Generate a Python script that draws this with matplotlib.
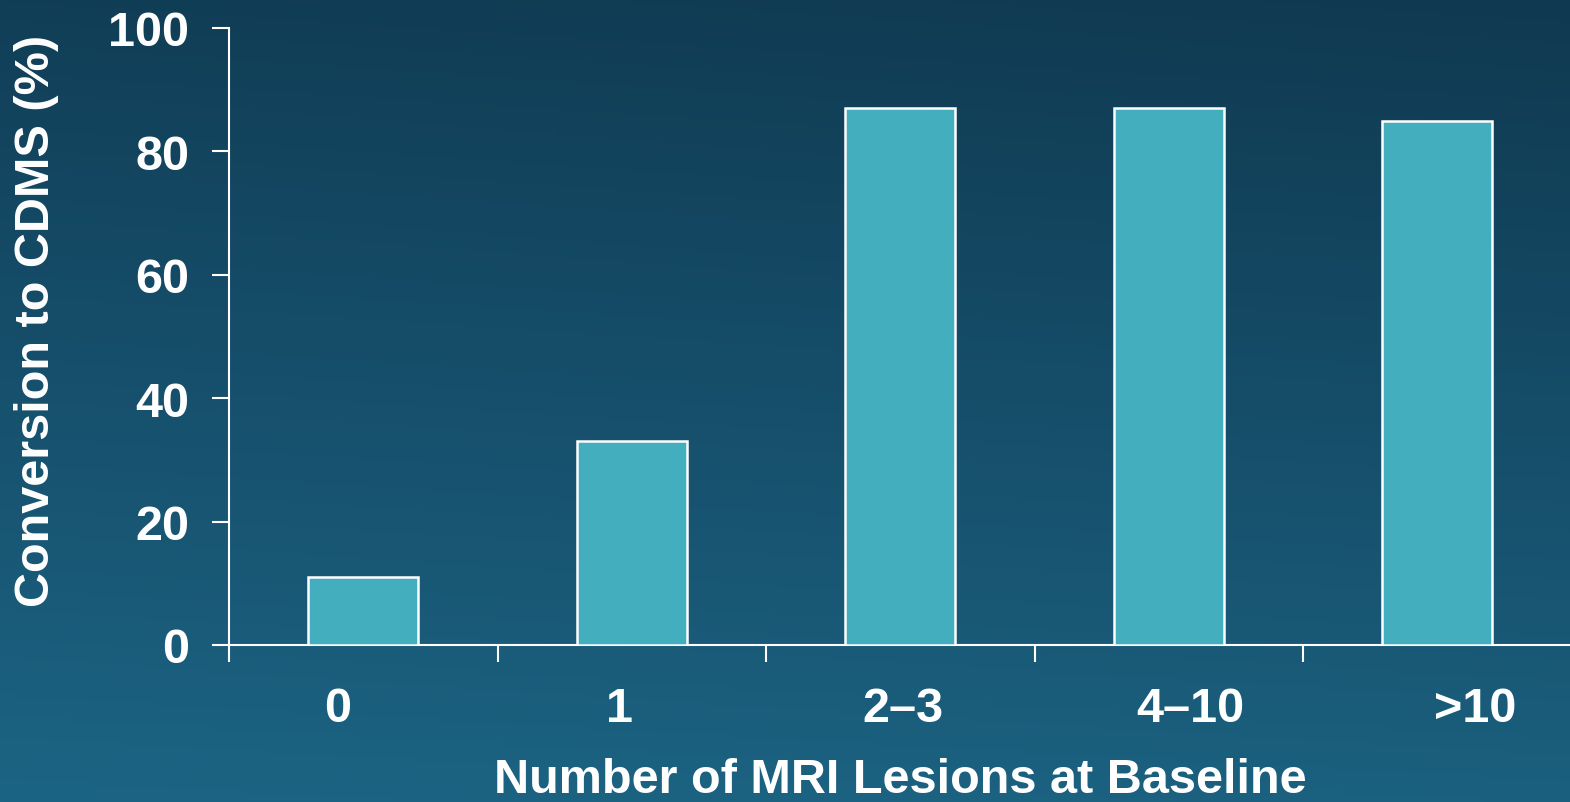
import numpy as np
import matplotlib
matplotlib.use("Agg")
import matplotlib.pyplot as plt

categories = ["0", "1", "2\u20133", "4\u201310", ">10"]
values = [11, 33, 87, 87, 85]
yticks = [0, 20, 40, 60, 80, 100]
xlabel = "Number of MRI Lesions at Baseline"
ylabel = "Conversion to CDMS (%)"

# label positions offsets (style)
label_offsets = [-0.097, -0.044, 0.01, 0.08, 0.14]

plt.rcParams['font.family'] = ['Liberation Sans', 'DejaVu Sans']
plt.rcParams['font.weight'] = 'bold'
FS = 35

fig = plt.figure(figsize=(15.70, 8.03), dpi=100)

# background gradient
bg = fig.add_axes([0, 0, 1, 1], zorder=-10)
h, w = 200, 400
yy = np.linspace(0, 1, h)[:, None]
xx = np.linspace(0, 1, w)[None, :]
top = np.array([17, 62, 87]) / 255.0
bot = np.array([28, 100, 132]) / 255.0
t = yy * np.ones_like(xx)
img = top[None, None, :] * (1 - t[..., None]) + bot[None, None, :] * t[..., None]
img = img * (1 - 0.08 * xx[..., None] * (1 - 0.5 * t[..., None]))
bg.imshow(img, aspect='auto', extent=[0, 1, 1, 0])
bg.set_axis_off()

ax = fig.add_axes([229 / 1570, 157 / 803, 1 - 229 / 1570 + 0.001, (645 - 28) / 803])
ax.patch.set_alpha(0)
x = np.arange(len(categories))
ax.bar(x, values, width=0.41, color='#42AEBE', edgecolor='white', linewidth=1.8, zorder=3)

ax.set_xlim(-0.5, 4.5)
ax.set_ylim(0, 100)
ax.set_yticks(yticks)
ax.set_yticklabels([str(v) for v in yticks], fontsize=FS, fontweight='bold', color='white')

ax.set_xticks(np.arange(-0.5, 4.0, 1.0))
ax.set_xticklabels([])
ax.tick_params(axis='x', direction='out', length=12, width=1.5, color='white')
ax.tick_params(axis='y', direction='out', length=12.5, width=1.5, color='white', pad=16)

for xi, lab, off in zip(x, categories, label_offsets):
    ax.text(xi + off, -10.3, lab, ha='center', va='center', fontsize=FS,
            fontweight='bold', color='white', transform=ax.transData, clip_on=False)

for s in ['top', 'right']:
    ax.spines[s].set_visible(False)
for s in ['left', 'bottom']:
    ax.spines[s].set_color('white')
    ax.spines[s].set_linewidth(1.5)

fig.text(900 / 1570, 1 - 781 / 803, xlabel, ha='center', va='center', fontsize=FS,
         fontweight='bold', color='white')
fig.text(37 / 1570, 1 - 321 / 803, ylabel, ha='center', va='center', rotation=90,
         fontsize=FS, fontweight='bold', color='white')

fig.savefig("out.png", dpi=100)
